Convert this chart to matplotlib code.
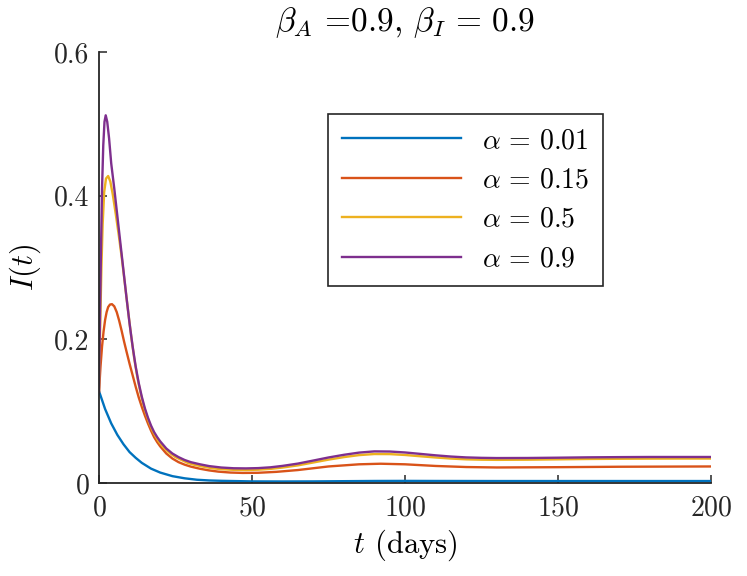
import matplotlib
matplotlib.use("Agg")
import matplotlib.pyplot as plt

# values
t_blue = [0, 2, 4, 6, 8, 10, 12, 14, 17, 20, 24, 28, 32, 36, 40, 50, 60, 70, 80,
          90, 100, 110, 130, 150, 175, 200]
i_blue = [0.128, 0.103, 0.083, 0.067, 0.054, 0.043, 0.035, 0.028, 0.020, 0.0145,
          0.0095, 0.0065, 0.0045, 0.0035, 0.003, 0.0022, 0.0021, 0.0022, 0.0025,
          0.0028, 0.0029, 0.0028, 0.0027, 0.0027, 0.0027, 0.0027]

t_orange = [0, 0.5, 1, 1.5, 2, 2.5, 3, 3.6, 4.25, 5, 5.8, 6.6, 7.4, 8.2, 9, 10, 11,
            12, 13, 14, 15, 16, 17, 18, 19, 20, 22, 24, 26, 28, 30, 33, 36, 39, 43,
            47, 52, 58, 65, 75, 85, 92, 100, 110, 120, 130, 150, 170, 200]
i_orange = [0.127, 0.162, 0.19, 0.211, 0.227, 0.238, 0.245, 0.2485, 0.249, 0.246,
            0.238, 0.226, 0.212, 0.197, 0.183, 0.166, 0.150, 0.134, 0.119, 0.106,
            0.094, 0.083, 0.073, 0.064, 0.057, 0.051, 0.041, 0.034, 0.029, 0.0255,
            0.0228, 0.0198, 0.0175, 0.0158, 0.0145, 0.014, 0.0142, 0.0155, 0.018,
            0.023, 0.026, 0.0268, 0.026, 0.0237, 0.0222, 0.0216, 0.022, 0.0226, 0.023]

t_yellow = [0, 0.4, 0.8, 1.2, 1.7, 2.3, 3.0, 3.7, 4.5, 5.5, 6.5, 7.5, 8.5, 9.5, 10.5,
            11.5, 12.5, 13.5, 14.5, 15.5, 16.5, 17.5, 18.5, 19.5, 21, 23, 25, 27, 29,
            31, 34, 37, 40, 44, 48, 52, 56, 60, 65, 70, 75, 80, 85, 90, 95, 100, 105,
            110, 115, 120, 125, 130, 140, 150, 160, 170, 180, 190, 200]
i_yellow = [0.127, 0.22, 0.30, 0.36, 0.405, 0.424, 0.4275, 0.42, 0.402, 0.374, 0.344,
            0.312, 0.276, 0.240, 0.205, 0.174, 0.148, 0.127, 0.109, 0.095, 0.083,
            0.073, 0.065, 0.058, 0.050, 0.042, 0.036, 0.032, 0.028, 0.0255, 0.0228,
            0.0205, 0.0192, 0.0183, 0.018, 0.0185, 0.0196, 0.0215, 0.0245, 0.0285,
            0.0325, 0.036, 0.0388, 0.0403, 0.0402, 0.039, 0.0372, 0.0355, 0.034,
            0.0329, 0.0324, 0.0322, 0.0324, 0.0329, 0.0334, 0.0337, 0.0339, 0.034,
            0.034]

t_purple = [0, 0.3, 0.6, 1.0, 1.4, 1.8, 2.2, 2.7, 3.3, 4, 5, 6, 7, 8, 9, 10, 11, 12,
            13, 14, 15, 16, 17, 18, 19, 20, 22, 24, 26, 28, 30, 33, 36, 40, 44, 48,
            52, 56, 60, 65, 70, 75, 80, 85, 90, 95, 100, 105, 110, 115, 120, 125,
            130, 140, 150, 160, 170, 180, 190, 200]
i_purple = [0.127, 0.22, 0.31, 0.41, 0.47, 0.503, 0.512, 0.503, 0.48, 0.445, 0.41,
            0.372, 0.334, 0.296, 0.258, 0.222, 0.190, 0.162, 0.139, 0.120, 0.104,
            0.091, 0.080, 0.071, 0.064, 0.058, 0.048, 0.041, 0.036, 0.032, 0.029,
            0.026, 0.0235, 0.0215, 0.0205, 0.0203, 0.0207, 0.0218, 0.0238, 0.027,
            0.0312, 0.0355, 0.0392, 0.0423, 0.044, 0.0438, 0.0425, 0.0405, 0.0385,
            0.0368, 0.0356, 0.035, 0.0347, 0.0348, 0.0352, 0.0357, 0.036, 0.0362,
            0.0362, 0.0362]

labels = [r'$\alpha\,=\,0.01$', r'$\alpha\,=\,0.15$', r'$\alpha\,=\,0.5$', r'$\alpha\,=\,0.9$']
colors = ['#0072BD', '#D95319', '#EDB120', '#7E2F8E']

plt.rcParams['font.family'] = 'serif'
plt.rcParams['font.serif'] = ['cmr10', 'DejaVu Serif']
plt.rcParams['mathtext.fontset'] = 'cm'
plt.rcParams['axes.formatter.use_mathtext'] = True

fig = plt.figure(figsize=(7.47, 5.76), dpi=100)
ax = fig.add_axes([0.1325, 0.1615, 0.8193, 0.748])

series = [(t_blue, i_blue), (t_orange, i_orange), (t_yellow, i_yellow), (t_purple, i_purple)]
for (t, v), lab, col in zip(series, labels, colors):
    ax.plot(t, v, color=col, lw=1.7, label=lab)

ax.set_xlim(0, 200)
ax.set_ylim(0, 0.6)
ax.set_xticks([0, 50, 100, 150, 200])
ax.set_yticks([0, 0.2, 0.4, 0.6])
ax.set_yticklabels(['0', '0.2', '0.4', '0.6'])
for s in ['top', 'right']:
    ax.spines[s].set_visible(False)
for s in ['left', 'bottom']:
    ax.spines[s].set_color('#262626')
    ax.spines[s].set_linewidth(1.3)
ax.tick_params(direction='in', length=6, width=1.1, color='#262626',
               labelsize=20, labelcolor='#262626')
ax.tick_params(axis='x', pad=9)
ax.tick_params(axis='y', pad=7)

ax.set_xlabel(r'$t$ (days)', fontsize=22, labelpad=4)
ax.set_ylabel(r'$I(t)$', fontsize=22, labelpad=8)
ax.set_title(r'$\beta_A$ =0.9, $\beta_I\,=\,0.9$', fontsize=24, pad=15)

leg = ax.legend(loc='upper left', bbox_to_anchor=(328 / 747, 1 - 114 / 576),
                bbox_transform=fig.transFigure, borderaxespad=0, fontsize=20,
                handlelength=4.3, fancybox=False, framealpha=1, edgecolor='#262626',
                borderpad=0.5, labelspacing=0.47, handletextpad=0.75)
leg.get_frame().set_linewidth(1.2)

fig.savefig('out.png', dpi=100)
